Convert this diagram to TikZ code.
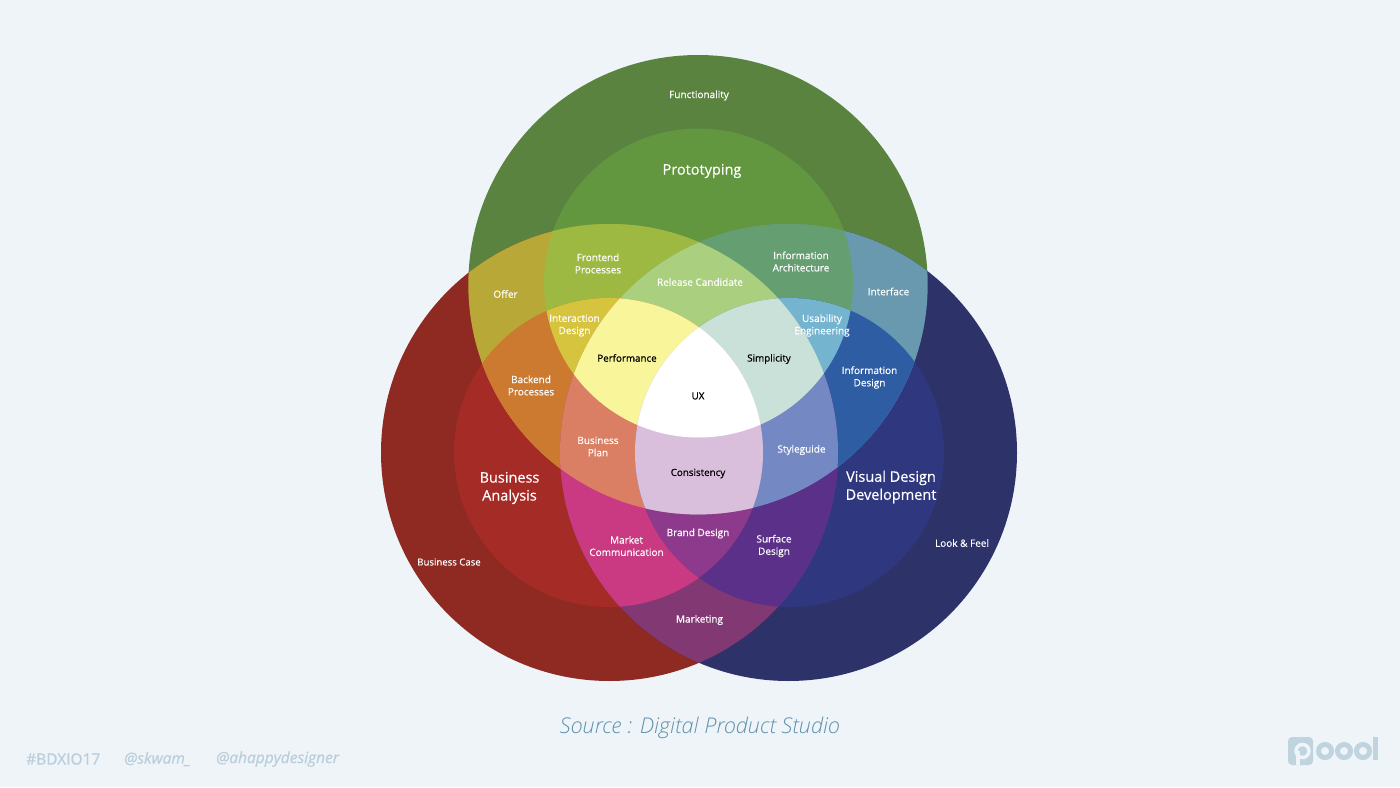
\documentclass[tikz,border=0pt]{standalone}
\usepackage{fontspec}
\setmainfont{Open Sans}
\newfontfamily\srcfont{Open Sans Light}[ItalicFont={Open Sans Light Italic}]
\newfontfamily\semifont{Open Sans}[FakeBold=0.35]
\newfontfamily\heavyfont{Open Sans}[FakeBold=0.7]
\definecolor{bgc}{HTML}{EFF4F9}
\definecolor{c100}{HTML}{5B8340}
\definecolor{c200}{HTML}{62963F}
\definecolor{c010}{HTML}{8E2A21}
\definecolor{c020}{HTML}{A52B26}
\definecolor{c001}{HTML}{2D3269}
\definecolor{c002}{HTML}{2F387F}
\definecolor{c110}{HTML}{B8A838}
\definecolor{c210}{HTML}{9DB941}
\definecolor{c220}{HTML}{D6C33E}
\definecolor{c120}{HTML}{CB7A30}
\definecolor{c211}{HTML}{A9CF7F}
\definecolor{c201}{HTML}{659F71}
\definecolor{c101}{HTML}{6899AE}
\definecolor{c202}{HTML}{74B4CF}
\definecolor{c102}{HTML}{2F5DA3}
\definecolor{c221}{HTML}{F8F59A}
\definecolor{c212}{HTML}{C9E1D8}
\definecolor{c222}{HTML}{FFFFFF}
\definecolor{c121}{HTML}{DA7F63}
\definecolor{c112}{HTML}{7489C4}
\definecolor{c122}{HTML}{DABFDD}
\definecolor{c021}{HTML}{C93A83}
\definecolor{c022}{HTML}{8D3A8D}
\definecolor{c012}{HTML}{5B3088}
\definecolor{c011}{HTML}{823873}
\definecolor{foot}{HTML}{B9CEDC}
\definecolor{srcc}{HTML}{5F93AD}
\definecolor{logoc}{HTML}{BFD4DF}
\newcommand{\regionfill}[3]{%
  \begin{scope}
    \ifcase#1\or\clip (T) circle[radius=229.7];\or\clip (Ti) circle[radius=154.5];\fi
    \ifcase#2\or\clip (L) circle[radius=228.5];\or\clip (Li) circle[radius=154.5];\fi
    \ifcase#3\or\clip (R) circle[radius=228.5];\or\clip (Ri) circle[radius=154.5];\fi
    \fill[c#1#2#3] (0,0) rectangle (1400,787);
  \end{scope}}
\tikzset{
  lab/.style={text=white,font=\semifont\fontsize{10}{12.3}\selectfont,align=center,inner sep=0pt},
  labk/.style={lab,text=black,font=\heavyfont\fontsize{9.8}{12.3}\selectfont},
  big/.style={lab,font=\semifont\fontsize{14.5}{18}\selectfont},
  footlab/.style={text=foot,anchor=west,inner sep=0pt,font=\semifont\fontsize{15.5}{17}\selectfont},
  footit/.style={footlab,font=\semifont\itshape\fontsize{15.5}{17}\selectfont}
}
\begin{document}
\begin{tikzpicture}[x=1pt,y=-1pt]
\useasboundingbox (0,0) rectangle (1400,787);
\fill[bgc] (0,0) rectangle (1400,787);
\coordinate (T) at (698,284.7);
\coordinate (Ti) at (698.5,283);
\coordinate (L) at (609.5,452.5);
\coordinate (R) at (788.5,452.5);
\coordinate (Li) at (608.5,452.5);
\coordinate (Ri) at (789.5,452.5);
\regionfill100 \regionfill010 \regionfill001
\regionfill200 \regionfill020 \regionfill002
\regionfill110 \regionfill101 \regionfill011
\regionfill210 \regionfill120 \regionfill201 \regionfill102 \regionfill021 \regionfill012
\regionfill220 \regionfill202 \regionfill022 \regionfill211 \regionfill121 \regionfill112
\regionfill221 \regionfill212 \regionfill122
\regionfill222
\node[lab] (functionality) at (699,95.5) {Functionality};
\node[big] (prototyping) at (702,171) {Prototyping};
\node[lab] (frontend) at (598,263.5) {Frontend\\Processes};
\node[lab] (release) at (700,282) {Release Candidate};
\node[lab] (infoarch) at (801,261.5) {Information\\Architecture};
\node[lab] (offer) at (505.5,294) {Offer};
\node[lab] (interface) at (888.5,291.5) {Interface};
\node[lab] (interaction) at (574.5,325.5) {Interaction\\Design};
\node[lab] (usability) at (822,325.5) {Usability\\Engineering};
\node[labk] (performance) at (627,358) {Performance};
\node[labk] (simplicity) at (769,359) {Simplicity};
\node[lab] (backend) at (531,385.5) {Backend\\Processes};
\node[lab] (infodesign) at (869.5,377.5) {Information\\Design};
\node[labk] (ux) at (698,396) {UX};
\node[lab] (busplan) at (598,446.5) {Business\\Plan};
\node[lab] (styleguide) at (801.5,450) {Styleguide};
\node[labk] (consistency) at (698,473.5) {Consistency};
\node[big] (business) at (509.5,488) {Business\\Analysis};
\node[big] (visual) at (891,487) {Visual Design\\Development};
\node[lab] (brand) at (698,533.5) {Brand Design};
\node[lab] (market) at (626.5,546) {Market\\Communication};
\node[lab] (surface) at (774,546) {Surface\\Design};
\node[lab] (lookfeel) at (962,543) {Look \& Feel};
\node[lab,font=\semifont\fontsize{9.6}{12}\selectfont] (buscase) at (449,562) {Business Case};
\node[lab] (marketing) at (699.5,620) {Marketing};
\node[text=srcc,inner sep=0pt,font=\srcfont\itshape\fontsize{21.7}{24}\selectfont] (source) at (700,728) {Source : Digital Product Studio};
\node[footlab] (tag) at (26,759) {\#BDXIO17};
\node[footit] (skwam) at (124,759) {@skwam\_};
\node[footit] (happy) at (216,759) {@ahappydesigner};
% logo
\fill[logoc,rounded corners=4pt] (1288,737) rectangle (1313,765);
\fill[bgc] (1296,751) rectangle (1299.5,765);
\draw[bgc,line width=3.5pt] (1302.5,751) circle[radius=6.5];
\foreach \cx in {1325,1344,1363}{\draw[logoc,line width=5pt] (\cx,751) circle[radius=6.5];}
\fill[logoc] (1373,737) rectangle (1378,760);
\end{tikzpicture}
\end{document}
